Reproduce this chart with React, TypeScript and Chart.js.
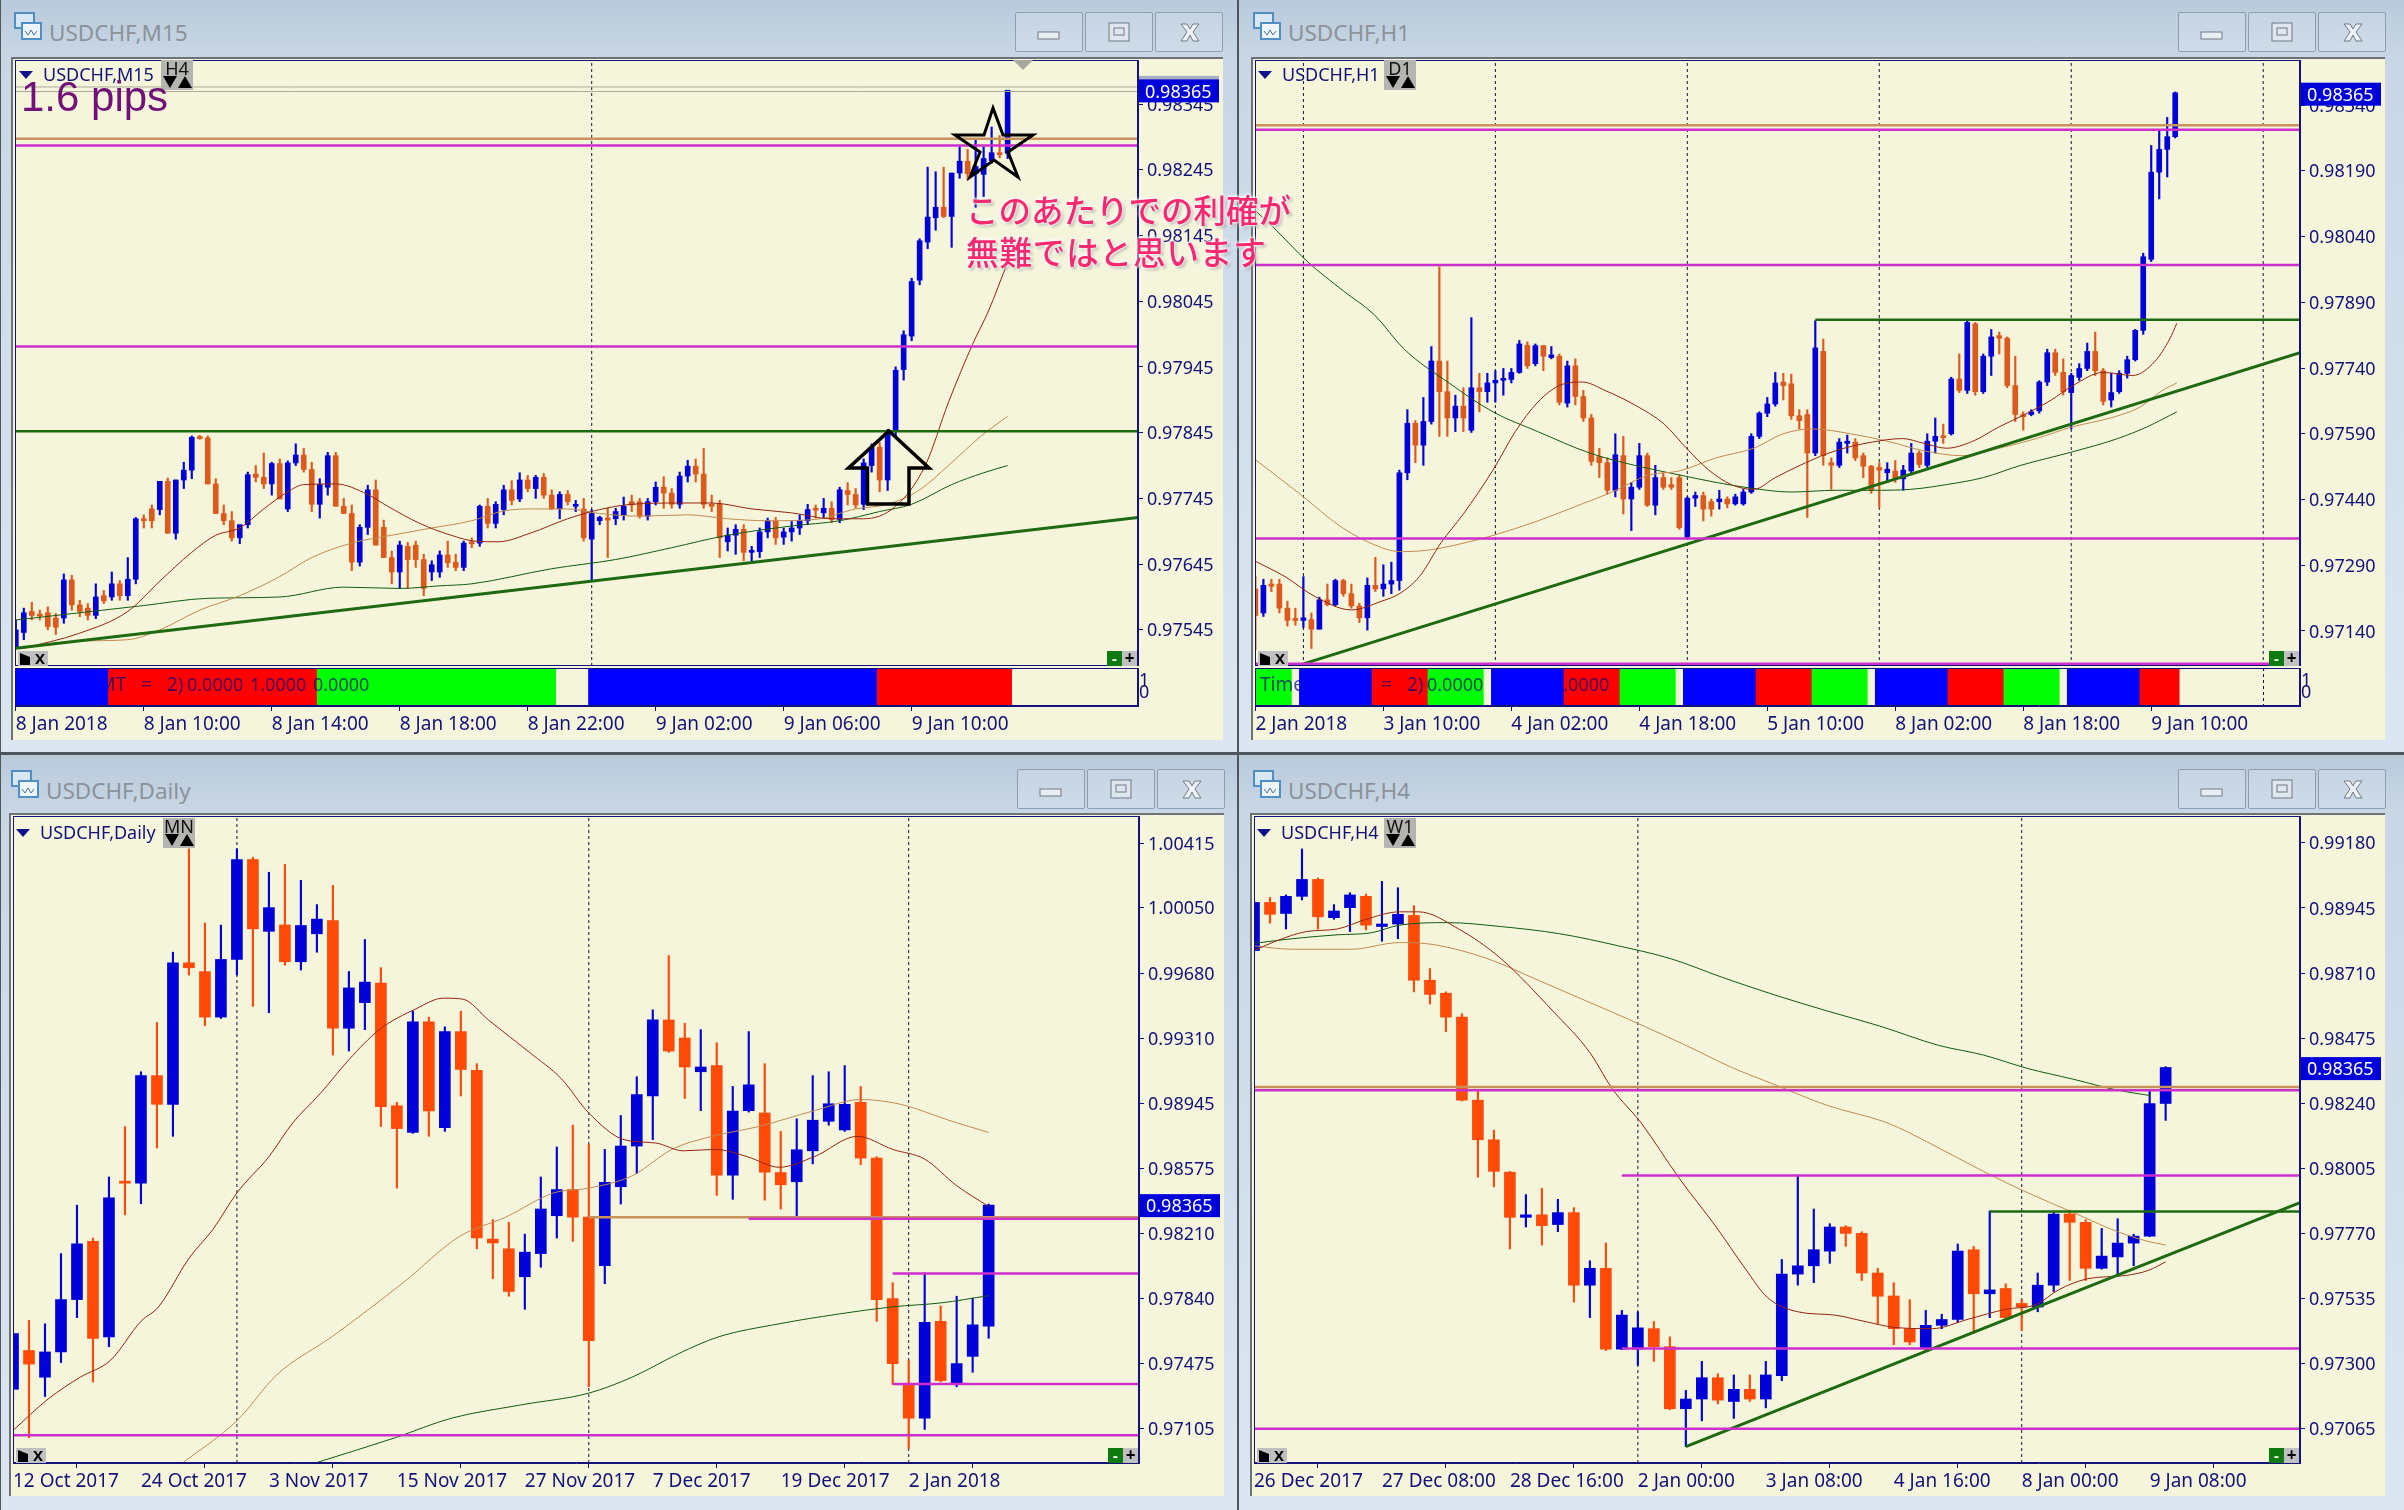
import React, { useEffect, useRef } from 'react';
import { Chart, registerables } from 'chart.js';
Chart.register(...registerables);

// All prices are written in points (1 point = 0.00001). Candle = [open, high, low, close].
const POINT = 1e-5;
const lastPrice = 98365;

const m15Candles = [[97519,97560,97517,97545],[97541,97578,97530,97571],[97573,97587,97560,97567],[97567,97575,97560,97566],[97571,97580,97545,97550],[97563,97570,97538,97549],[97563,97630,97555,97621],[97621,97628,97575,97583],[97583,97590,97565,97573],[97578,97585,97560,97567],[97567,97615,97562,97595],[97597,97605,97585,97589],[97595,97633,97590,97615],[97615,97620,97590,97597],[97597,97655,97590,97622],[97622,97716,97615,97714],[97714,97720,97700,97711],[97729,97735,97700,97711],[97728,97771,97720,97771],[97771,97776,97692,97692],[97692,97773,97683,97773],[97773,97800,97760,97788],[97788,97840,97775,97838],[97837,97841,97835,97836],[97837,97840,97767,97767],[97767,97775,97722,97722],[97722,97735,97705,97711],[97711,97725,97680,97685],[97685,97705,97676,97705],[97705,97785,97700,97781],[97782,97795,97770,97777],[97777,97814,97760,97767],[97767,97800,97750,97798],[97798,97805,97745,97744],[97729,97802,97725,97799],[97799,97828,97795,97811],[97811,97821,97785,97789],[97789,97800,97725,97736],[97736,97775,97715,97766],[97762,97815,97750,97810],[97810,97815,97733,97733],[97733,97745,97722,97722],[97722,97735,97635,97648],[97648,97705,97642,97701],[97701,97765,97690,97758],[97758,97773,97674,97674],[97701,97712,97655,97655],[97655,97665,97615,97633],[97633,97680,97608,97674],[97672,97678,97608,97652],[97674,97680,97640,97652],[97652,97660,97597,97608],[97633,97650,97620,97644],[97633,97665,97625,97659],[97659,97680,97640,97647],[97648,97660,97635,97640],[97640,97680,97635,97677],[97677,97685,97670,97676],[97677,97735,97672,97733],[97733,97745,97700,97707],[97707,97740,97700,97736],[97728,97765,97720,97758],[97758,97772,97735,97742],[97744,97784,97740,97773],[97773,97780,97755,97760],[97760,97780,97745,97777],[97777,97783,97745,97750],[97750,97758,97728,97729],[97729,97755,97714,97751],[97751,97757,97735,97740],[97733,97742,97725,97734],[97729,97745,97680,97685],[97683,97728,97619,97722],[97711,97718,97705,97716],[97714,97730,97655,97712],[97714,97730,97705,97725],[97720,97747,97712,97733],[97740,97750,97725,97735],[97740,97745,97715,97718],[97718,97745,97712,97740],[97740,97770,97735,97762],[97762,97778,97730,97753],[97753,97760,97730,97736],[97736,97785,97730,97779],[97779,97803,97770,97794],[97794,97805,97770,97782],[97782,97821,97730,97736],[97736,97750,97725,97733],[97736,97742,97655,97685],[97679,97700,97665,97689],[97689,97705,97660,97698],[97698,97705,97650,97663],[97663,97672,97650,97666],[97664,97700,97655,97694],[97694,97715,97685,97711],[97711,97716,97675,97685],[97686,97700,97675,97694],[97694,97710,97680,97700],[97700,97720,97690,97711],[97711,97736,97705,97728],[97728,97735,97715,97727],[97723,97745,97715,97730],[97730,97740,97708,97713],[97713,97762,97708,97758],[97757,97769,97735,97751],[97751,97760,97730,97735],[97736,97805,97728,97799],[97795,97828,97785,97823],[97823,97830,97755,97773],[97773,97850,97757,97847],[97847,97945,97840,97940],[97941,98000,97925,97994],[97992,98080,97985,98075],[98077,98140,98070,98137],[98135,98249,98125,98173],[98172,98242,98153,98188],[98188,98249,98172,98174],[98174,98240,98127,98240],[98240,98280,98232,98258],[98258,98276,98230,98239],[98239,98290,98188,98250],[98238,98280,98204,98262],[98259,98310,98255,98271],[98270,98297,98263,98268],[98270,98366,98262,98366]];
const m15MaRed = [[1,97517],[8,97540],[14,97573],[18,97619],[22,97663],[25,97689],[28,97700],[31,97729],[34,97755],[36,97766],[40,97767],[44,97751],[46.5,97733],[50.5,97707],[54.4,97689],[57.4,97680],[60.3,97679],[64.3,97692],[69,97714],[73,97728],[77,97736],[83,97738],[87,97738],[92,97729],[97,97723],[102,97714],[106,97714],[110,97733],[113.7,97795],[116.6,97891],[119.6,97979],[121.6,98030],[124,98104]];
const m15MaTan = [[1,97519],[8,97528],[14,97530],[18,97545],[23,97575],[28,97597],[33,97626],[37,97655],[42,97677],[47,97689],[52,97700],[57,97711],[61,97726],[65,97729],[69,97729],[73,97722],[78,97718],[84,97720],[89,97714],[94,97711],[100,97713],[105,97729],[109,97736],[113,97758],[116.6,97795],[120.6,97839],[124,97870]];
const m15MaGreen = [[0,97560],[8,97571],[16,97582],[24,97593],[33,97595],[41,97610],[48,97608],[53,97612],[57,97615],[67,97638],[75,97652],[82,97670],[89,97689],[97,97703],[103,97711],[108,97725],[112,97736],[117,97766],[121,97784],[124,97795]];
const m15GrayLevels = [[-1,98371],[-1,98364]];
const m15TanLevels = [[-1,98292]];
const m15MagentaLevels = [[-1,98282],[-1,97976]];
const m15GreenLevels = [[-1,97847]];
const m15Trend = [[0,97517],[140.3,97716]];
const m15Separators = [72];
const m15XTicks = [0,16,32,48,64,80,96,112];
const m15XLabels = ['8 Jan 2018','8 Jan 10:00','8 Jan 14:00','8 Jan 18:00','8 Jan 22:00','9 Jan 02:00','9 Jan 06:00','9 Jan 10:00'];
const m15YTicks = [98345,98245,98145,98045,97945,97845,97745,97645,97545];
const m15SubBlue = [[-1,11.5],[71.6,107.6]];
const m15SubRed = [[11.5,37.6],[107.6,124.5]];
const m15SubGreen = [[37.6,67.5]];

const h1Candles = [[97236,97264,97098,97175],[97181,97258,97173,97244],[97247,97258,97230,97242],[97247,97258,97181,97192],[97192,97208,97151,97164],[97166,97192,97153,97164],[97164,97264,97148,97170],[97166,97181,97100,97144],[97144,97217,97144,97211],[97211,97247,97197,97200],[97200,97258,97197,97255],[97255,97258,97219,97225],[97225,97247,97192,97197],[97197,97203,97159,97170],[97170,97261,97142,97244],[97244,97308,97230,97236],[97236,97291,97219,97247],[97247,97297,97225,97255],[97255,97507,97233,97501],[97501,97645,97485,97614],[97614,97620,97524,97564],[97564,97673,97518,97618],[97618,97789,97612,97756],[97756,97971,97584,97686],[97686,97756,97584,97626],[97626,97678,97595,97653],[97653,97695,97595,97626],[97598,97855,97593,97695],[97695,97728,97640,97686],[97686,97728,97662,97706],[97706,97734,97662,97712],[97712,97739,97678,97714],[97714,97739,97706,97730],[97730,97803,97728,97795],[97792,97800,97739,97745],[97750,97795,97745,97791],[97791,97792,97734,97767],[97764,97789,97761,97770],[97767,97772,97656,97662],[97660,97756,97651,97745],[97745,97761,97656,97675],[97675,97689,97618,97626],[97626,97634,97518,97527],[97538,97557,97490,97524],[97524,97535,97452,97461],[97461,97590,97446,97542],[97540,97584,97407,97441],[97441,97479,97369,97468],[97468,97568,97463,97540],[97540,97546,97424,97427],[97427,97518,97405,97490],[97490,97501,97463,97468],[97474,97490,97463,97468],[97490,97496,97372,97376],[97354,97446,97352,97443],[97443,97457,97424,97449],[97449,97457,97391,97418],[97435,97441,97402,97418],[97435,97461,97418,97441],[97441,97446,97421,97430],[97430,97452,97427,97446],[97430,97463,97427,97457],[97457,97590,97454,97584],[97584,97640,97579,97637],[97637,97673,97629,97658],[97658,97730,97653,97706],[97708,97728,97667,97700],[97704,97726,97623,97631],[97631,97645,97601,97620],[97634,97645,97399,97546],[97546,97848,97540,97786],[97778,97806,97518,97540],[97524,97535,97463,97518],[97518,97579,97513,97571],[97568,97587,97546,97573],[97571,97579,97529,97535],[97540,97546,97490,97516],[97516,97518,97454,97461],[97513,97524,97421,97507],[97501,97524,97479,97509],[97505,97529,97479,97487],[97487,97518,97461,97507],[97505,97568,97501,97546],[97546,97551,97513,97520],[97518,97590,97513,97573],[97573,97626,97546,97584],[97584,97612,97568,97581],[97590,97719,97587,97715],[97715,97772,97684,97689],[97689,97848,97682,97844],[97841,97844,97678,97686],[97686,97772,97682,97767],[97767,97828,97723,97811],[97814,97822,97772,97808],[97808,97811,97695,97700],[97700,97767,97618,97634],[97634,97640,97598,97629],[97634,97645,97631,97640],[97642,97711,97637,97708],[97708,97783,97700,97775],[97775,97783,97723,97730],[97730,97761,97678,97686],[97684,97728,97601,97723],[97719,97750,97712,97739],[97739,97797,97734,97778],[97778,97822,97723,97734],[97734,97739,97656,97664],[97667,97728,97651,97684],[97686,97734,97682,97728],[97728,97767,97717,97759],[97759,97828,97756,97826],[97826,98002,97817,97994],[97988,98248,97983,98187],[98187,98281,98126,98239],[98239,98312,98176,98268],[98268,98370,98265,98368]];
const h1MaRed = [[0,97299],[3.7,97264],[7.4,97219],[12,97188],[15.8,97208],[18,97225],[20.5,97264],[23.2,97341],[26,97407],[29.7,97507],[32.5,97595],[35.3,97662],[38,97700],[40.9,97708],[43.7,97689],[47.4,97656],[51.1,97612],[53.9,97557],[56.7,97507],[59.5,97474],[62.3,97463],[65,97490],[68.8,97524],[72.5,97551],[77.1,97571],[80.9,97579],[83.6,97568],[86.4,97557],[89.7,97573],[93,97606],[96.2,97634],[99.5,97667],[102.2,97700],[106,97730],[109.7,97723],[112.5,97756],[114.3,97806],[115.2,97842]];
const h1MaTan = [[0,97531],[5.6,97452],[11,97374],[15.8,97330],[18,97321],[21.4,97324],[25,97336],[29.7,97358],[35.3,97391],[40,97424],[44.6,97457],[49.2,97496],[53,97505],[57.6,97535],[62.3,97557],[66,97590],[69.7,97601],[74.4,97590],[79,97573],[83.6,97551],[88.3,97540],[93,97557],[97.6,97579],[102.2,97606],[106.9,97626],[110.6,97651],[113.4,97689],[115.2,97706]];
const h1MaGreen = [[0,98099],[2.3,98060],[6.5,97983],[11,97916],[14.9,97861],[18.6,97783],[24.2,97706],[29.7,97640],[35.3,97595],[41.8,97546],[47.4,97518],[53,97496],[57.6,97479],[62.3,97465],[67,97457],[72.5,97461],[77.1,97461],[81.8,97463],[86.4,97474],[91,97490],[95.7,97518],[102.2,97549],[107.8,97579],[111.5,97606],[115.2,97640]];
const h1TanLevels = [[-1,98294]];
const h1MagentaLevels = [[-1,98284],[-1,97975],[-1,97351],[-1,97065]];
const h1GreenLevels = [[70,97850]];
const h1Trend = [[6,97065],[130.6,97775]];
const h1Separators = [6,30,54,78,102,126];
const h1XTicks = [0,16,32,48,64,80,96,112];
const h1XLabels = ['2 Jan 2018','3 Jan 10:00','4 Jan 02:00','4 Jan 18:00','5 Jan 10:00','8 Jan 02:00','8 Jan 18:00','9 Jan 10:00'];
const h1YTicks = [98340,98190,98040,97890,97740,97590,97440,97290,97140];
const h1SubBlue = [[5.5,14.5],[29.5,38.5],[53.5,62.5],[77.5,86.5],[101.5,110.5]];
const h1SubRed = [[14.5,21.5],[38.5,45.5],[62.5,69.5],[86.5,93.5],[110.5,115.5]];
const h1SubGreen = [[-1,4.5],[21.5,28.5],[45.5,52.5],[69.5,76.5],[93.5,100.5]];

const dailyCandles = [[97327,97642,97272,97642],[97546,97716,97053,97469],[97395,97697,97286,97538],[97538,98094,97478,97834],[97834,98368,97732,98149],[98163,98182,97368,97615],[97623,98527,97568,98409],[98497,98812,98313,98492],[98492,99122,98376,99100],[99100,99401,98691,98938],[98938,99798,98757,99738],[99738,100382,99669,99710],[99688,99963,99382,99431],[99431,99951,99423,99757],[99757,100382,99669,100322],[100322,100335,99492,99930],[99916,100250,99456,100050],[99952,100294,99725,99744],[99744,100204,99697,99949],[99902,100067,99798,99985],[99977,100176,99217,99368],[99368,99689,99239,99596],[99513,99870,99360,99629],[99623,99711,98812,98924],[98930,98949,98464,98801],[98779,99464,98774,99404],[99404,99431,98757,98900],[98806,99376,98785,99349],[99349,99464,98985,99135],[99130,99168,98121,98182],[98176,98286,97952,98154],[98121,98272,97853,97880],[97963,98204,97779,98102],[98094,98527,98017,98346],[98308,98697,98182,98456],[98456,98820,98163,98300],[98300,98711,97341,97601],[98026,98683,97924,98497],[98472,98875,98374,98702],[98702,99094,98546,98993],[98985,99472,98738,99415],[99415,99779,99231,99239],[99313,99396,98971,99149],[99122,99360,98902,99149],[99157,99286,98423,98538],[98538,99039,98401,98900],[98902,99349,98894,99048],[98889,99168,98396,98554],[98552,98785,98346,98483],[98500,98856,98286,98681],[98675,99100,98601,98848],[98842,99122,98820,98941],[98793,99157,98785,98938],[98949,99039,98596,98634],[98634,98642,97711,97834],[97839,97930,97354,97472],[97354,97491,96993,97163],[97163,97985,97100,97705],[97711,97798,97368,97376],[97360,97853,97341,97472],[97513,97842,97423,97691],[97683,98374,97615,98368]];
const dailyMaRed = [[0,97094],[2.2,97272],[4.2,97395],[6.1,97491],[8,97711],[9.1,97793],[11,98067],[12.5,98231],[14,98437],[16,98642],[17.5,98834],[19.2,98998],[21,99190],[22.9,99360],[25.2,99478],[26.9,99538],[28.1,99533],[29.8,99409],[32.3,99231],[34.3,99081],[36,98889],[38.2,98738],[40.2,98719],[41.9,98675],[43.9,98683],[45.9,98642],[47.9,98582],[50.1,98642],[52.8,98757],[55,98683],[57,98628],[59,98478],[61,98360]];
const dailyMaTan = [[10.6,96910],[14,97149],[16.5,97409],[20,97628],[24.4,97930],[27.9,98190],[30.8,98300],[33.8,98437],[36,98464],[38.7,98533],[41.2,98683],[43.7,98757],[46.6,98812],[50.1,98902],[53,98965],[55.5,98938],[58.5,98848],[61,98779]];
const dailyMaGreen = [[18.9,96910],[23.9,97053],[27.4,97163],[31.8,97239],[36,97305],[38.7,97395],[41.7,97532],[44.1,97623],[47.9,97697],[51.6,97752],[55,97793],[58,97815],[61,97856]];
const dailyTanLevels = [[36,98300]];
const dailyMagentaLevels = [[-1,97067],[46,98291],[55,97982],[55,97357]];
const dailySeparators = [14,36,56];
const dailyXTicks = [0,8,16,24,32,40,48,56];
const dailyXLabels = ['12 Oct 2017','24 Oct 2017','3 Nov 2017','15 Nov 2017','27 Nov 2017','7 Dec 2017','19 Dec 2017','2 Jan 2018'];
const dailyYTicks = [100415,100050,99680,99310,98945,98575,98210,97840,97475,97105];

const h4Candles = [[98791,98974,98782,98965],[98965,98983,98890,98922],[98925,98992,98869,98987],[98987,99158,98974,99048],[99048,99053,98869,98913],[98910,98957,98904,98934],[98946,99000,98860,98992],[98987,98995,98866,98883],[98878,99041,98825,98887],[98887,99018,98834,98922],[98918,98953,98642,98684],[98684,98726,98598,98633],[98637,98642,98498,98551],[98551,98563,98248,98251],[98251,98283,97973,98108],[98108,98143,97938,97994],[97991,97994,97714,97828],[97828,97910,97793,97837],[97837,97933,97728,97798],[97802,97893,97776,97845],[97845,97863,97522,97583],[97583,97671,97466,97644],[97644,97735,97347,97352],[97352,97492,97350,97475],[97352,97487,97294,97429],[97426,97452,97308,97361],[97361,97396,97133,97137],[97137,97203,97000,97172],[97172,97308,97093,97249],[97249,97263,97154,97168],[97163,97259,97102,97207],[97207,97259,97163,97172],[97172,97308,97140,97259],[97256,97676,97238,97623],[97623,97980,97583,97653],[97653,97858,97592,97711],[97706,97805,97662,97793],[97793,97798,97723,97770],[97770,97776,97600,97627],[97627,97644,97443,97543],[97544,97592,97368,97426],[97426,97531,97368,97378],[97355,97492,97347,97438],[97438,97478,97426,97459],[97459,97732,97448,97706],[97711,97723,97408,97552],[97552,97851,97466,97566],[97571,97588,97455,97466],[97517,97531,97420,97504],[97504,97627,97487,97583],[97583,97845,97560,97840],[97840,97854,97600,97810],[97810,97819,97600,97644],[97644,97788,97641,97688],[97685,97823,97618,97735],[97735,97767,97653,97760],[97760,98283,97758,98239],[98239,98372,98178,98369]];
const h4MaRed = [[0,98791],[1.4,98826],[3.3,98860],[5.2,98869],[7,98904],[9.1,98931],[10.3,98931],[12.8,98869],[15.4,98764],[18.7,98572],[21,98423],[22.4,98292],[24.2,98169],[26.6,97968],[28.9,97793],[30.7,97644],[32.1,97539],[34,97487],[36.3,97475],[38.2,97452],[40,97431],[42.4,97426],[44.7,97461],[47,97496],[48.9,97513],[50.3,97566],[52.1,97606],[54.5,97618],[55.9,97636],[57,97667]];
const h4MaTan = [[0,98808],[2.4,98796],[6.1,98796],[9.1,98820],[11.2,98813],[14.5,98764],[17.7,98686],[20.5,98616],[23.3,98546],[27,98449],[29.8,98371],[32.6,98306],[35.9,98231],[39.6,98169],[42.4,98091],[45.6,97994],[48.4,97916],[51.2,97846],[54,97776],[55.9,97741],[57,97728]];
const h4MaGreen = [[0,98817],[2.4,98834],[5.2,98848],[7.3,98855],[9.1,98883],[12.1,98892],[15.4,98878],[19.1,98852],[22.8,98808],[26.1,98761],[29.3,98694],[32.6,98630],[35.9,98572],[39.1,98519],[42.8,98449],[45.6,98414],[48.4,98365],[51.2,98327],[54,98287],[56,98268]];
const h4TanLevels = [[-1,98299]];
const h4MagentaLevels = [[-1,98287],[23,97979],[23,97354],[-1,97065]];
const h4GreenLevels = [[46,97849]];
const h4Trend = [[27,97000],[65.4,97881]];
const h4Separators = [24,48];
const h4XTicks = [0,8,16,24,32,40,48,56];
const h4XLabels = ['26 Dec 2017','27 Dec 08:00','28 Dec 16:00','2 Jan 00:00','3 Jan 08:00','4 Jan 16:00','8 Jan 00:00','9 Jan 08:00'];
const h4YTicks = [99180,98945,98710,98475,98240,98005,97770,97535,97300,97065];
const subLabel = 'Time (GMT = 2)';
const subValues = ['0.0000','1.0000','0.0000'];

const NAVY = '#12127a';
const BEIGE = '#f5f5dc';
const AXIS_W = 84;
const FONT = { family: "'Noto Sans', sans-serif", size: 18 };
const XFONT = { family: "'Noto Sans', sans-serif", size: 19 };

type Num = number[][];
function noPadding(s: any) { s.paddingTop = 0; s.paddingBottom = 0; s.paddingLeft = 0; s.paddingRight = 0; }
function lvl(levels: Num, xMin: number, xMax: number, color: string, w: number, order: number) {
  return levels.map(([from, price]) => ({
    type: 'line', data: [{ x: from < 0 ? xMin : from, y: price * POINT }, { x: xMax, y: price * POINT }],
    borderColor: color, borderWidth: w, pointRadius: 0, order,
  }));
}
function ma(points: Num, color: string) {
  return {
    type: 'line', data: points.map(([x, p]) => ({ x, y: p * POINT })),
    borderColor: color, borderWidth: 1, pointRadius: 0, cubicInterpolationMode: 'monotone', order: 3,
  };
}

function framePlugin(p: any) {
  return {
    id: 'frame',
    afterDraw(chart: any) {
      const { ctx, chartArea: a, scales } = chart;
      ctx.save();
      ctx.strokeStyle = NAVY; ctx.lineWidth = 1;
      ctx.strokeRect(a.left + 0.5, a.top + 0.5, a.right - a.left - 1, a.bottom - a.top - 1);
      const y = scales.y.getPixelForValue(lastPrice * POINT);
      if (p.grayStrip) { ctx.fillStyle = '#a9aec0'; ctx.fillRect(a.right + 1, y - 15, 80, 4); }
      ctx.fillStyle = '#0000dc';
      ctx.fillRect(a.right + 1, y - 11.5, 80, 23);
      ctx.fillStyle = '#fff';
      ctx.font = "18px 'Noto Sans', sans-serif";
      ctx.textBaseline = 'middle'; ctx.textAlign = 'left';
      ctx.fillText((lastPrice * POINT).toFixed(5), a.right + 7, y + 1.5);
      ctx.restore();
    },
  };
}

function xScale(p: any, show: boolean) {
  return {
    type: 'linear', position: 'bottom', min: p.xMin, max: p.xMax, offset: false, display: show,
    grid: { drawOnChartArea: false, tickLength: 5, color: NAVY },
    border: { color: NAVY },
    afterBuildTicks: (s: any) => { s.ticks = p.xTicks.map((value: number) => ({ value })); },
    afterFit: (s: any) => { s.height = show ? p.axisH : 0; noPadding(s); },
    ticks: {
      autoSkip: false, maxRotation: 0, minRotation: 0, align: 'start', color: NAVY, font: XFONT, padding: 2,
      callback: (_v: any, i: number) => p.xLabels[i],
    },
  };
}

function mainConfig(p: any) {
  const yMin = p.yMin * POINT, yMax = p.yMax * POINT;
  const col = (c: number[]) => (c[3] >= c[0] ? '#0000d8' : p.down);
  const cs: Num = p.candles;
  return {
    type: 'bar',
    data: {
      datasets: [
        ...p.separators.map((x: number) => ({
          type: 'line', data: [{ x, y: yMin }, { x, y: yMax }], borderColor: '#16163a', borderWidth: 1,
          borderDash: [3, 3], pointRadius: 0, order: 8,
        })),
        { type: 'bar', data: cs.map((c, x) => ({ x, y: [c[2] * POINT, c[1] * POINT] })), backgroundColor: cs.map(col), barThickness: 1.5, grouped: false, order: 6 },
        { type: 'bar', data: cs.map((c, x) => ({ x, y: [Math.min(c[0], c[3]) * POINT, Math.max(c[0], c[3]) * POINT] })), backgroundColor: cs.map(col), barThickness: p.body, minBarLength: 2, grouped: false, order: 5 },
        ma(p.maRed, '#96240f'), ma(p.maTan, '#c08a50'), ma(p.maGreen, '#105c10'),
        ...lvl(p.gray || [], p.xMin, p.xMax, '#a9a99a', 1, 2),
        ...lvl(p.tan, p.xMin, p.xMax, '#c8925a', 2.5, 2),
        ...lvl(p.magenta, p.xMin, p.xMax, '#cc2fcc', 2.5, 1),
        ...lvl(p.green || [], p.xMin, p.xMax, '#1d6a10', 2.5, 2),
        ...(p.trend ? [{
          type: 'line', data: p.trend.map(([x, v]: number[]) => ({ x, y: v * POINT })), borderColor: '#1d6a10',
          borderWidth: 3, pointRadius: 0, order: 2,
        }] : []),
      ],
    },
    options: {
      responsive: false, animation: false, maintainAspectRatio: false,
      layout: { padding: 0 },
      plugins: { legend: { display: false }, tooltip: { enabled: false }, title: { display: false } },
      scales: {
        x: xScale(p, !p.sub),
        y: {
          type: 'linear', position: 'right', min: yMin, max: yMax,
          grid: { drawOnChartArea: false, tickLength: 5, color: NAVY },
          border: { color: NAVY },
          afterBuildTicks: (s: any) => { s.ticks = p.yTicks.map((v: number) => ({ value: v * POINT })); },
          afterFit: (s: any) => { s.width = AXIS_W; noPadding(s); },
          ticks: { autoSkip: false, color: NAVY, font: FONT, padding: 4, labelOffset: 1.5, callback: (v: number) => v.toFixed(5) },
        },
      },
    },
    plugins: [framePlugin(p)],
  };
}

function subConfig(p: any) {
  const bars = (list: Num, color: string) => ({
    type: 'bar', data: list.map((r) => ({ x: r, y: 0.5 })), backgroundColor: color, barThickness: 36, grouped: false,
  });
  return {
    type: 'bar',
    data: { datasets: [bars(p.sub.blue, '#0000ff'), bars(p.sub.red, '#ff0000'), bars(p.sub.green, '#00ff00')] },
    options: {
      responsive: false, animation: false, indexAxis: 'y', maintainAspectRatio: false,
      layout: { padding: 0 },
      plugins: { legend: { display: false }, tooltip: { enabled: false } },
      scales: {
        x: xScale(p, true),
        y: {
          type: 'linear', position: 'right', min: -1.1, max: 2.1, offset: false,
          grid: { drawOnChartArea: false, drawTicks: false },
          border: { color: NAVY },
          afterBuildTicks: (s: any) => { s.ticks = [{ value: 1 }, { value: 0 }]; },
          afterFit: (s: any) => { s.width = AXIS_W; noPadding(s); },
          ticks: { autoSkip: false, color: NAVY, font: FONT, padding: 1, callback: (v: number) => String(v) },
        },
      },
    },
    plugins: [{
      id: 'subExtras',
      beforeDatasetsDraw(chart: any) {
        const { ctx, chartArea: a, scales } = chart;
        ctx.save(); ctx.strokeStyle = '#16163a'; ctx.setLineDash([3, 3]); ctx.lineWidth = 1;
        p.separators.forEach((v: number) => {
          const x = Math.round(scales.x.getPixelForValue(v)) + 0.5;
          ctx.beginPath(); ctx.moveTo(x, a.top); ctx.lineTo(x, a.bottom); ctx.stroke();
        });
        ctx.restore();
      },
      beforeDatasetDraw(chart: any, args: any) {
        if (args.index !== 0) return;
        const { ctx, chartArea: a } = chart;
        ctx.save();
        ctx.fillStyle = 'rgba(0,0,128,0.72)';
        ctx.textBaseline = 'middle';
        ctx.font = "19px 'Noto Sans', sans-serif";
        (ctx as any).wordSpacing = '10px';
        ctx.fillText(subLabel, a.left + 5, a.top + 18);
        (ctx as any).wordSpacing = '0px';
        ctx.font = "18px 'Noto Sans', sans-serif";
        subValues.forEach((t, i) => ctx.fillText(t, a.left + 172 + i * 63, a.top + 18));
        ctx.restore();
      },
      afterDatasetsDraw(chart: any) {
        const { ctx, chartArea: a } = chart;
        ctx.save();
        ctx.strokeStyle = NAVY; ctx.lineWidth = 1;
        ctx.strokeRect(a.left + 0.5, a.top + 0.5, a.right - a.left - 1, a.bottom - a.top - 1);
        ctx.restore();
      },
    }],
  };
}

function ChartBox({ config, left, top, width, height }: any) {
  const ref = useRef<HTMLCanvasElement>(null);
  useEffect(() => {
    const chart = new Chart(ref.current as any, config());
    return () => chart.destroy();
  }, []);
  return <canvas ref={ref} width={width} height={height} style={{ position: 'absolute', left, top, width, height, display: 'block' }} />;
}

function Abs({ l, t, w, h, s, children }: any) {
  return <div style={{ position: 'absolute', left: l, top: t, width: w, height: h, ...s }}>{children}</div>;
}

function Btn({ l, t, kind }: any) {
  return (
    <div style={{ position: 'absolute', left: l, top: t, width: 68, height: 40, boxSizing: 'border-box', border: '1px solid #8f9fb2', borderRadius: 2, background: 'linear-gradient(#c6d4e3,#cfdbe8)' }}>
      <svg width="66" height="38" style={{ position: 'absolute', left: 0, top: 0 }}>
        {kind === 0 && <rect x="22" y="19" width="21" height="7" fill="#e8edf2" stroke="#6f7a86" />}
        {kind === 1 && <g><rect x="23" y="10" width="20" height="18" fill="#dfe6ee" stroke="#6f7a86" /><rect x="28" y="15" width="10" height="7" fill="none" stroke="#6f7a86" /></g>}
        {kind === 2 && <path d="M25 11 L31 11 L34 16 L37 11 L43 11 L37 19 L43 28 L37 28 L34 22 L31 28 L25 28 L31 19 Z" fill="#eef2f6" stroke="#6f7a86" />}
      </svg>
    </div>
  );
}

function Tri({ x, y, up }: any) {
  return <svg width="14" height="12" style={{ position: 'absolute', left: x, top: y }}><path d={up ? 'M7 0 L14 12 L0 12 Z' : 'M0 0 L14 0 L7 12 Z'} fill="#000" /></svg>;
}

function Panel({ win, plot, title, titleX, titleY, btnX, btnY, clientBottom }: any) {
  return (
    <>
      <Abs l={win.l} t={win.t} w={win.w} h={win.h} s={{ background: 'linear-gradient(#b9cadb 0,#c9d7e5 60px,#dbe6f1 100%)' }} />
      <svg width="30" height="30" style={{ position: 'absolute', left: titleX - 35, top: titleY - 5 }}>
        <rect x="1" y="1" width="19" height="15" fill="#d9e7f5" stroke="#4f8fc5" strokeWidth="2" />
        <rect x="8" y="11" width="19" height="16" fill="#eef6fc" stroke="#4f8fc5" strokeWidth="2" />
        <path d="M11 19 l3 4 l3 -5 l3 5 l3 -4" stroke="#49708f" fill="none" />
      </svg>
      <Abs l={titleX} t={titleY} w={260} h={32} s={{ font: "22.5px 'Noto Sans', sans-serif", color: '#8b929a', lineHeight: '32px', whiteSpace: 'nowrap' }}>{title}</Abs>
      {[0, 1, 2].map((k) => <Btn key={k} l={btnX + k * 70} t={btnY} kind={k} />)}
      <Abs l={plot.l - 4} t={plot.t - 3} w={plot.r - plot.l + 89} h={clientBottom - plot.t + 3} s={{ background: BEIGE, borderTop: '2px solid #6d7278', borderLeft: '2px solid #6d7278', boxSizing: 'border-box' }} />
    </>
  );
}

function Overlay({ plot, legend, tf, legendX, btnX, y0 }: any) {
  return (
    <>
      <svg width="14" height="8" style={{ position: 'absolute', left: legendX - 24, top: y0 + 10 }}><path d="M0 0 L14 0 L7 8 Z" fill="#10108c" /></svg>
      <Abs l={legendX} t={y0} w={130} h={26} s={{ font: "18px 'Noto Sans', sans-serif", color: NAVY, lineHeight: '26px', whiteSpace: 'nowrap' }}>{legend}</Abs>
      <Abs l={btnX} t={y0 - 1} w={32} h={30} s={{ background: '#b4b4b0', overflow: 'hidden' }}>
        <div style={{ font: "18px 'Noto Sans', sans-serif", color: '#111', lineHeight: '17px', textAlign: 'center', whiteSpace: 'nowrap' }}>{tf}</div>
        <Tri x={2} y={16} /><Tri x={17} y={16} up />
      </Abs>
      <Abs l={plot.l + 3} t={plot.b - 15} w={30} h={15} s={{ background: '#c0c0c0', font: "bold 15px 'Noto Sans', sans-serif", lineHeight: '15px', color: '#000' }}>
        <svg width="14" height="15" style={{ position: 'absolute', left: 0, top: 0 }}><path d="M2 2 L12 6 L12 14 L2 14 Z" fill="#000" /></svg>
        <span style={{ position: 'absolute', left: 17 }}>X</span>
      </Abs>
      <Abs l={plot.r - 31} t={plot.b - 15} w={15} h={15} s={{ background: '#0f7a0f', color: '#fff', font: "bold 15px 'Noto Sans', sans-serif", lineHeight: '14px', textAlign: 'center' }}>-</Abs>
      <Abs l={plot.r - 16} t={plot.b - 15} w={15} h={15} s={{ background: '#c0c0c0', color: '#000', font: "bold 17px 'Noto Sans', sans-serif", lineHeight: '14px', textAlign: 'center' }}>+</Abs>
    </>
  );
}

const plotM15 = { l: 15, r: 1138, t: 60, b: 666 };
const plotH1 = { l: 1255, r: 2300, t: 60, b: 666 };
const plotD = { l: 13, r: 1139, t: 816, b: 1463 };
const plotH4 = { l: 1254, r: 2300, t: 816, b: 1463 };

const pM15 = { candles: m15Candles, down: '#dc5a1c', body: 5, maRed: m15MaRed, maTan: m15MaTan, maGreen: m15MaGreen, gray: m15GrayLevels, tan: m15TanLevels, magenta: m15MagentaLevels, green: m15GreenLevels, trend: m15Trend, separators: m15Separators, xTicks: m15XTicks, xLabels: m15XLabels, yTicks: m15YTicks, xMin: -0.1, xMax: 140.3, yMin: 97490, yMax: 98412, axisH: 34, grayStrip: true, sub: { blue: m15SubBlue, red: m15SubRed, green: m15SubGreen } };
const pH1 = { candles: h1Candles, down: '#dc5a1c', body: 5, maRed: h1MaRed, maTan: h1MaTan, maGreen: h1MaGreen, tan: h1TanLevels, magenta: h1MagentaLevels, green: h1GreenLevels, trend: h1Trend, separators: h1Separators, xTicks: h1XTicks, xLabels: h1XLabels, yTicks: h1YTicks, xMin: -0.05, xMax: 130.6, yMin: 97060, yMax: 98443, axisH: 34, sub: { blue: h1SubBlue, red: h1SubRed, green: h1SubGreen } };
const pD = { candles: dailyCandles, down: '#ff4a08', body: 11, maRed: dailyMaRed, maTan: dailyMaTan, maGreen: dailyMaGreen, tan: dailyTanLevels, magenta: dailyMagentaLevels, separators: dailySeparators, xTicks: dailyXTicks, xLabels: dailyXLabels, yTicks: dailyYTicks, xMin: 0, xMax: 70.4, yMin: 96910, yMax: 100568, axisH: 33 };
const pH4 = { candles: h4Candles, down: '#ff4a08', body: 11, maRed: h4MaRed, maTan: h4MaTan, maGreen: h4MaGreen, tan: h4TanLevels, magenta: h4MagentaLevels, green: h4GreenLevels, trend: h4Trend, separators: h4Separators, xTicks: h4XTicks, xLabels: h4XLabels, yTicks: h4YTicks, xMin: 0, xMax: 65.4, yMin: 96941, yMax: 99277, axisH: 33 };

function Main({ p, plot }: any) {
  return (
    <>
      <ChartBox config={() => mainConfig(p)} left={plot.l} top={plot.t} width={plot.r - plot.l + AXIS_W} height={plot.b - plot.t + (p.sub ? 0 : p.axisH)} />
      {p.sub && <ChartBox config={() => subConfig(p)} left={plot.l} top={668} width={plot.r - plot.l + AXIS_W} height={38 + p.axisH} />}
    </>
  );
}

export default function App() {
  return (
    <div style={{ position: 'fixed', left: 0, top: 0, width: 2404, height: 1510, background: '#4f565c', overflow: 'hidden' }}>
      <Panel win={{ l: 1, t: 0, w: 1236, h: 752 }} plot={plotM15} title="USDCHF,M15" titleX={49} titleY={17} btnX={1015} btnY={12} clientBottom={740} />
      <Panel win={{ l: 1239, t: 0, w: 1165, h: 752 }} plot={plotH1} title="USDCHF,H1" titleX={1288} titleY={17} btnX={2178} btnY={12} clientBottom={740} />
      <Panel win={{ l: 1, t: 755, w: 1236, h: 755 }} plot={plotD} title="USDCHF,Daily" titleX={46} titleY={775} btnX={1017} btnY={769} clientBottom={1496} />
      <Panel win={{ l: 1239, t: 755, w: 1165, h: 755 }} plot={plotH4} title="USDCHF,H4" titleX={1288} titleY={775} btnX={2178} btnY={769} clientBottom={1496} />

      <Main p={pM15} plot={plotM15} />
      <Main p={pH1} plot={plotH1} />
      <Main p={pD} plot={plotD} />
      <Main p={pH4} plot={plotH4} />

      <Overlay plot={plotM15} legend="USDCHF,M15" tf="H4" legendX={43} btnX={161} y0={61} />
      <Overlay plot={plotH1} legend="USDCHF,H1" tf="D1" legendX={1282} btnX={1384} y0={61} />
      <Overlay plot={plotD} legend="USDCHF,Daily" tf="MN" legendX={40} btnX={163} y0={819} />
      <Overlay plot={plotH4} legend="USDCHF,H4" tf="W1" legendX={1281} btnX={1384} y0={819} />

      <div style={{ position: 'absolute', left: 21, top: 72, font: "42px 'Liberation Sans', Arial, sans-serif", lineHeight: '50px', color: '#701078', whiteSpace: 'nowrap' }}>1.6 pips</div>

      <svg width="2404" height="1510" style={{ position: 'absolute', left: 0, top: 0, pointerEvents: 'none' }}>
        <path d="M1013 60 L1033 60 L1023 70 Z" fill="#a8a89c" />
        <path d="M993 108 L1003 135 L1033 135 L1008 152 L1018 177 L994 160 L970 177 L980 152 L955 135 L984 135 Z" fill="none" stroke="#000" strokeWidth="3" />
        <path d="M889 431 L929 468 L909 468 L909 504 L867.5 504 L867.5 468 L848.5 468 Z" fill="none" stroke="#000" strokeWidth="3.5" />
      </svg>

      <div style={{ position: 'absolute', left: 966, top: 188, font: "500 32.5px 'Noto Sans CJK JP', sans-serif", lineHeight: '42px', color: '#f7296f', whiteSpace: 'nowrap', textShadow: '0 0 3px #fff, 0 0 3px #fff, 0 0 5px #fff, 2px 2px 3px rgba(90,90,90,.6)' }}>
        <div>このあたりでの利確が</div>
        <div style={{ letterSpacing: 0.9 }}>無難ではと思います</div>
      </div>
    </div>
  );
}
